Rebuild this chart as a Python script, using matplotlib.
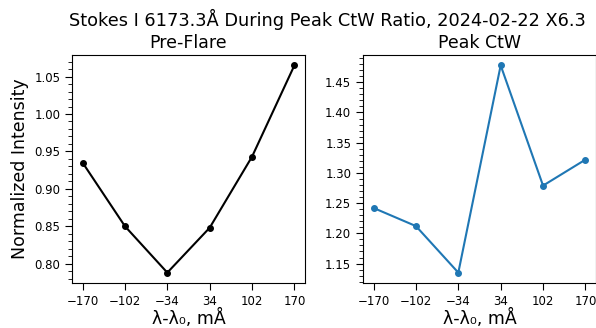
import matplotlib
matplotlib.use("Agg")
import matplotlib.pyplot as plt
from matplotlib.ticker import AutoMinorLocator

# wavelength offsets, mA
offsets = [-170, -102, -34, 34, 102, 170]
pre_flare = [0.935, 0.850, 0.788, 0.848, 0.943, 1.065]
peak_ctw = [1.242, 1.212, 1.135, 1.478, 1.279, 1.322]

fig = plt.figure(figsize=(5.96, 3.28), dpi=100)
ax1 = fig.add_axes([72 / 596, 1 - 283 / 328, 233 / 596, 228 / 328])
ax2 = fig.add_axes([363 / 596, 1 - 283 / 328, 233 / 596, 228 / 328])

ax1.plot(offsets, pre_flare, "-o", color="black", markersize=4, lw=1.5)
ax2.plot(offsets, peak_ctw, "-o", color="tab:blue", markersize=4, lw=1.5)

ax1.set_title("Pre-Flare", fontsize=12.5, pad=5)
ax2.set_title("Peak CtW", fontsize=12.5, pad=5)
ax1.set_ylabel("Normalized Intensity", fontsize=12.5)

for ax in (ax1, ax2):
    ax.set_xticks(offsets)
    ax.set_xlabel("λ-λ₀, mÅ", fontsize=12.5, labelpad=1)
    ax.yaxis.set_minor_locator(AutoMinorLocator(5))
    ax.tick_params(axis="both", which="major", labelsize=8.5, length=5)
    ax.tick_params(axis="y", which="minor", length=3)

fig.text(0.55, 1 - 26 / 328, "Stokes I 6173.3Å During Peak CtW Ratio, 2024-02-22 X6.3",
         ha="center", va="baseline", fontsize=12.8)

fig.savefig("out.png", dpi=100)
plt.close(fig)
